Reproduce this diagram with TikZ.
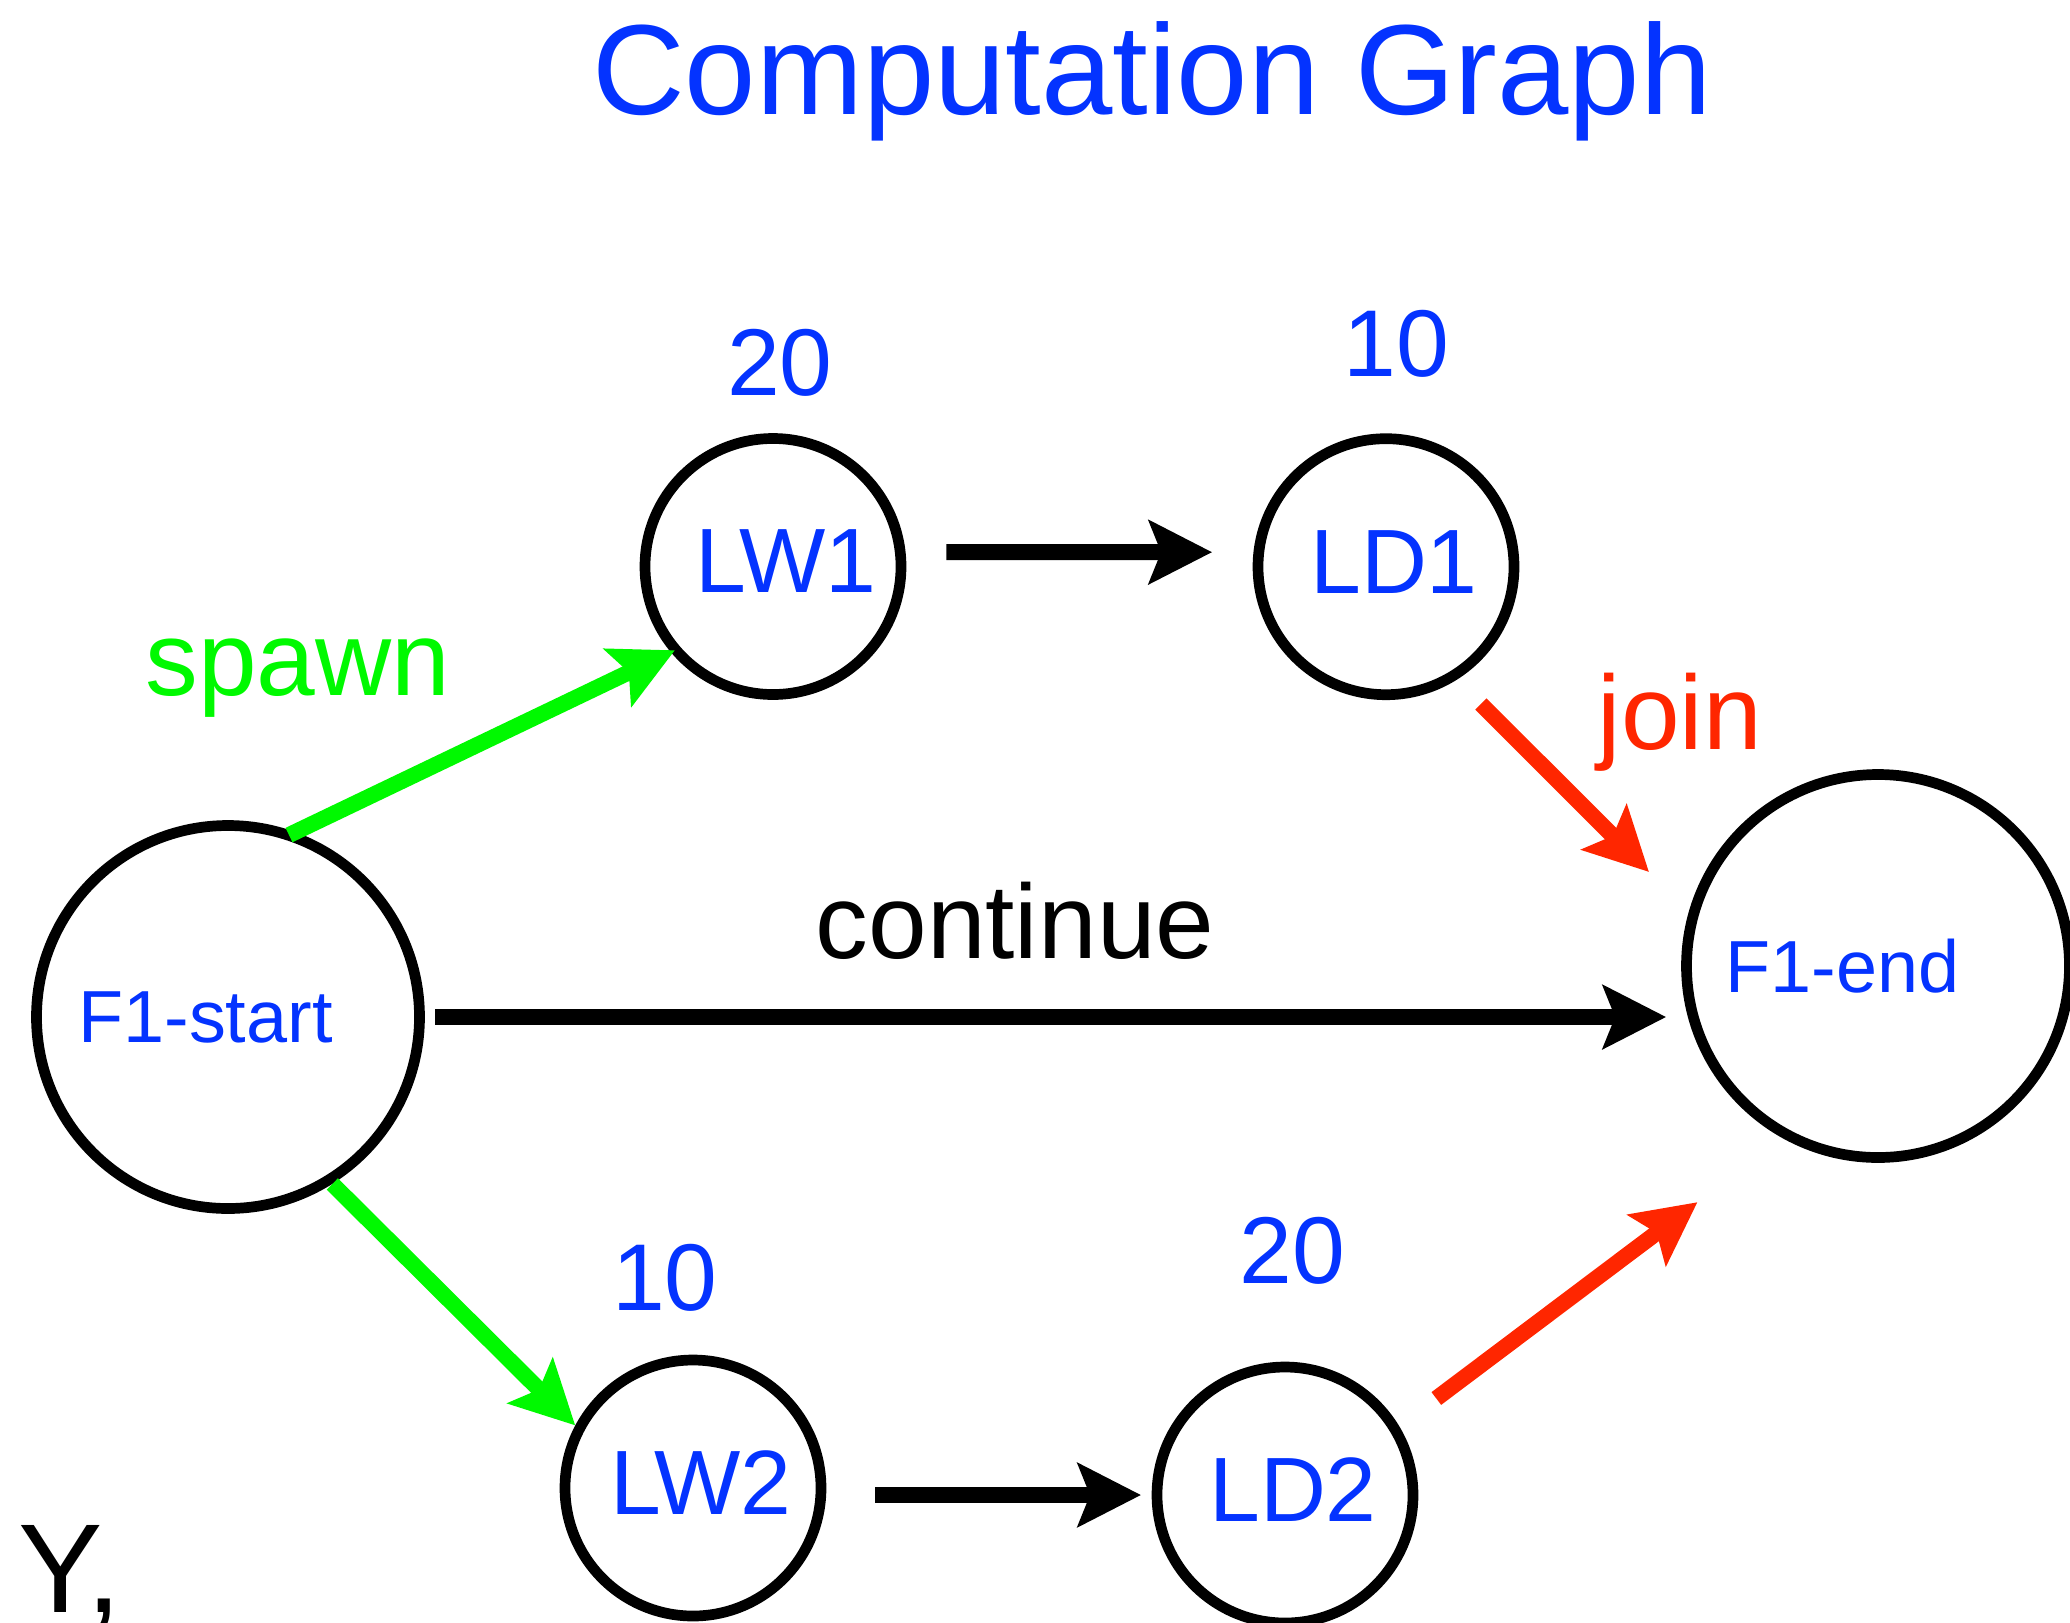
\documentclass[tikz,border=0pt]{standalone}
\usepackage{fontspec}
\setmainfont{Liberation Sans}
\usetikzlibrary{arrows.meta}
\definecolor{keyblue}{RGB}{4,51,255}
\definecolor{keygreen}{RGB}{0,249,0}
\definecolor{keyred}{RGB}{255,38,0}
\colorlet{task text}{keyblue}
\colorlet{spawn edge}{keygreen}
\colorlet{join edge}{keyred}
\tikzset{task/.style={draw, circle, line width=1.07mm, minimum size=2.56cm, inner sep=0pt, text depth=1mm, execute at begin node=\hspace*{1.6mm}, text=task text, font=\fontsize{26}{30}\selectfont},
	fiber/.style={task, minimum size=3.83cm, text depth=0mm, font=\fontsize{21}{24}\selectfont},
	cost/.style={text=task text, inner sep=0pt, anchor=base, font=\fontsize{27}{30}\selectfont},
	tag/.style={inner sep=0pt, anchor=base, font=\fontsize{30}{34}\selectfont},
	flow/.style={line width=1.6mm, -{Stealth[length=6.3mm, width=6.3mm, inset=1.2mm]}}}

\begin{document}
\begin{tikzpicture}
		\useasboundingbox (0,0) rectangle (20.70,-16.22);
		\node[tag, text=task text, font=\fontsize{36.5}{40}\selectfont] (title) at (11.52,-1.14) {Computation Graph};
		\node[fiber] (start) at (2.28,-10.17) {F1-start\hspace*{6.1mm}};
		\node[fiber] (end) at (18.78,-9.66) {F1-end\hspace*{8.7mm}};
		\node[task] (LW1) at (7.73,-5.665) {\hspace*{1mm}LW1};
		\node[task] (LD1) at (13.86,-5.667) {LD1};
		\node[task] (LW2) at (6.93,-14.88) {LW2};
		\node[task] (LD2) at (12.85,-14.95) {LD2};
		\node[cost] (c1) at (7.80,-3.95) {20};
		\node[cost] (c2) at (13.96,-3.76) {10};
		\node[cost] (c3) at (6.65,-13.10) {10};
		\node[cost] (c4) at (12.92,-12.83) {20};
		\node[tag, text=spawn edge] (spawn) at (2.98,-6.95) {spawn};
		\node[tag, text=join edge] (join) at (16.80,-7.49) {join};
		\node[tag] (cont) at (10.15,-9.58) {continue};
		\node[tag, anchor=base west, font=\fontsize{36}{40}\selectfont] (y) at (0.18,-16.12) {Y,};
		
		\draw[flow, spawn edge, shorten <=-0.7mm, shorten >=-0.45mm] (start.70) -- (LW1.220);
		\draw[flow, spawn edge] (start.302.3) -- (LW2.152.7);
		\draw[flow, shorten <=4mm, shorten >=4.05mm] ([yshift=1.45mm]LW1.east) -- ([yshift=1.45mm]LD1.west);
		\draw[flow, shorten <=4.9mm, shorten >=1.06mm] (LW2.east |- LD2.west) -- (LD2.west);
		\draw[flow, shorten <=1.05mm, shorten >=1.5mm] (start.east) -- (start.east -| end.west);
		\draw[flow, join edge, shorten <=3.43mm, shorten >=5.63mm] (LD1.302.7) -- (end.164.1);
		\draw[flow, join edge, shorten <=4.63mm, shorten >=10.65mm] (LD2.31.9) -- (end.241);
		\end{tikzpicture}
\end{document}
